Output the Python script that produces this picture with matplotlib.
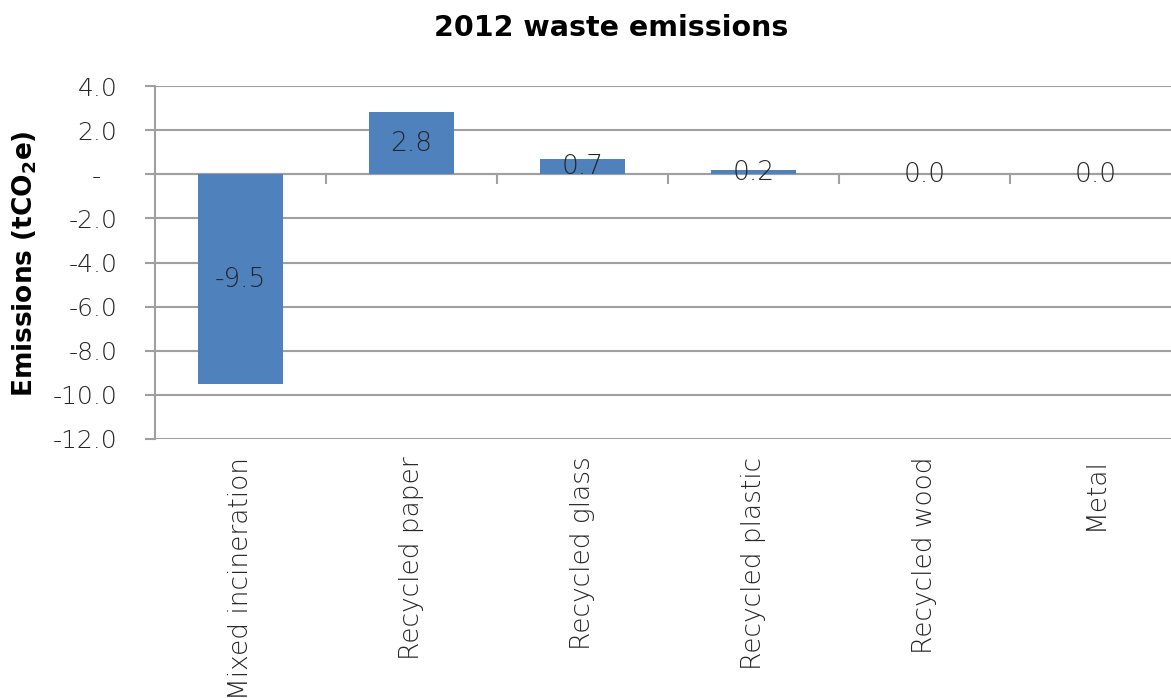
import matplotlib
matplotlib.use("Agg")
import matplotlib.pyplot as plt
import matplotlib.transforms as mtransforms

categories = ["Mixed incineration", "Recycled paper", "Recycled glass",
              "Recycled plastic", "Recycled wood", "Metal"]
values = [-9.5, 2.8, 0.7, 0.2, 0.0, 0.0]
value_labels = ["-9.5", "2.8", "0.7", "0.2", "0.0", "0.0"]
yticks = [4, 2, 0, -2, -4, -6, -8, -10, -12]
ytick_labels = ["4.0", "2.0", "-  ", "-2.0", "-4.0", "-6.0", "-8.0", "-10.0", "-12.0"]

W, H = 1171, 698
fig = plt.figure(figsize=(W / 100, H / 100), dpi=100)
left, right = 155 / W, 1181 / W
top, bottom = 86 / H, 439 / H
ax = fig.add_axes([left, 1 - bottom, right - left, bottom - top])

font = "DejaVu Sans"
txt_c = "#262626"
grid_c = "#a0a0a0"
x = list(range(len(categories)))
ax.bar(x, values, width=0.5, color="#4F81BD", zorder=3)
ax.set_xlim(-0.5, len(categories) - 0.5)
ax.set_ylim(-12, 4)

ax.set_yticks(yticks)
ax.set_yticklabels(ytick_labels, fontsize=18, color=txt_c, family=font, fontweight="light")
ax.yaxis.grid(True, color=grid_c, linewidth=1.5, zorder=0)
ax.tick_params(axis="y", length=7, width=1.5, color=grid_c, pad=20)

for s in ["top", "right"]:
    ax.spines[s].set_visible(False)
ax.spines["left"].set_color(grid_c)
ax.spines["left"].set_linewidth(1.5)
ax.spines["bottom"].set_position(("data", 0))
ax.spines["bottom"].set_color(grid_c)
ax.spines["bottom"].set_linewidth(1.5)
ax.set_xticks([i + 0.5 for i in x[:-1]])
ax.set_xticklabels([])
ax.tick_params(axis="x", length=7, width=1.5, color=grid_c, direction="out")

trans = mtransforms.blended_transform_factory(ax.transData, ax.transAxes)
for i, c in enumerate(categories):
    ax.text(i, -0.05, c, rotation=90, ha="center", va="top", transform=trans,
            fontsize=19, color=txt_c, family=font, fontweight="light", clip_on=False)

for i, (v, lab) in enumerate(zip(values, value_labels)):
    ax.text(i, v / 2, lab, ha="center", va="center", fontsize=19,
            color=txt_c, family=font, fontweight="light", zorder=4)

fig.text(611 / W, 1 - 28 / H, "2012 waste emissions", ha="center", va="center",
         fontsize=20.5, fontweight="bold", family=font)
fig.text(25 / W, 1 - 264 / H, r"Emissions (tCO$_\mathbf{2}$e)", rotation=90,
         ha="center", va="center", fontsize=19, fontweight="bold", family=font)

fig.savefig("out.png", dpi=100)
